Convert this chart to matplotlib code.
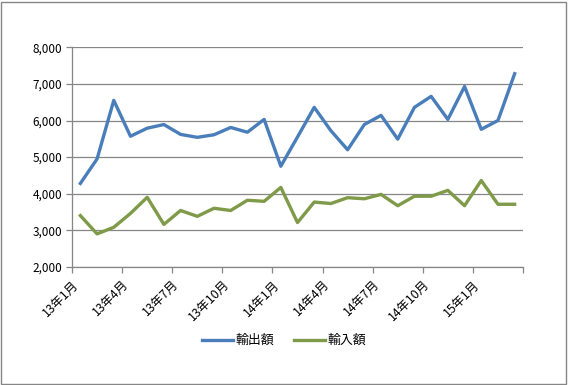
import numpy as np
import matplotlib
matplotlib.use('Agg')
import matplotlib.pyplot as plt
from matplotlib.ticker import FuncFormatter
from matplotlib.patches import Rectangle

plt.rcParams['font.family'] = ['Noto Sans CJK JP', 'DejaVu Sans']

# 13年1月 .. 15年3月 (27 months)
exports = [4280, 4950, 6550, 5570, 5790, 5890, 5620, 5540, 5610, 5810, 5680, 6030,
           4750, 5550, 6360, 5720, 5200, 5890, 6140, 5490, 6360, 6660, 6030, 6930,
           5760, 6000, 7280]
imports = [3400, 2900, 3080, 3460, 3900, 3160, 3540, 3380, 3600, 3540, 3820, 3790,
           4170, 3210, 3770, 3730, 3890, 3860, 3980, 3670, 3930, 3930, 4090, 3670,
           4360, 3710, 3710]
tick_labels = ['13年1月', '13年4月', '13年7月', '13年10月', '14年1月',
               '14年4月', '14年7月', '14年10月', '15年1月']

fig = plt.figure(figsize=(5.68, 3.85), dpi=100)
ax = fig.add_axes([0.1268, 0.307, 0.794, 0.570])

x = np.arange(len(exports))
ax.plot(x, exports, color='#4A7EBB', lw=2.4, label='輸出額', solid_joinstyle='round')
ax.plot(x, imports, color='#7F9A48', lw=2.4, label='輸入額', solid_joinstyle='round')

ax.set_xlim(-0.5, len(exports) - 0.5)
ax.set_ylim(2000, 8000)
ax.set_yticks(np.arange(2000, 8001, 1000))
ax.yaxis.set_major_formatter(FuncFormatter(lambda v, p: f'{int(v):,}'))
ax.grid(axis='y', color='#868686', lw=0.9)
ax.set_axisbelow(True)

xt = np.arange(-0.5, len(exports), 3)
ax.set_xticks(xt)
ax.set_xticklabels(tick_labels + [''] * (len(xt) - len(tick_labels)),
                   rotation=45, ha='right', rotation_mode='anchor', fontsize=8.8)
ax.tick_params(axis='both', color='#868686', length=4, width=0.9)
ax.tick_params(axis='y', length=4, pad=3, labelsize=8.5)
ax.tick_params(axis='x', pad=4)
for s in ['top', 'right']:
    ax.spines[s].set_visible(False)
for s in ['left', 'bottom']:
    ax.spines[s].set_color('#868686')
    ax.spines[s].set_linewidth(0.9)

fig.legend(loc='center', bbox_to_anchor=(0.5, 0.115), ncol=2, frameon=False,
           fontsize=9.3, handlelength=2.4, columnspacing=1.5, handletextpad=0.2)

fig.patches.append(Rectangle((0.002, 0.003), 0.995, 0.993, transform=fig.transFigure,
                             fill=False, edgecolor='#868686', lw=1))

fig.savefig('out.png', dpi=100)
